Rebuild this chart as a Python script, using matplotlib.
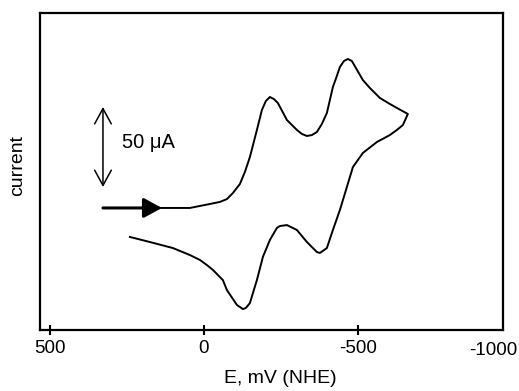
import matplotlib
matplotlib.use("Agg")
import matplotlib.pyplot as plt

plt.rcParams['font.family'] = ['Liberation Sans', 'DejaVu Sans']

# Forward scan (toward negative potentials), E in mV vs NHE, current in µA (arbitrary offset)
fwd_E = [142.5, 45.4, -19.4, -51.8, -74.5, -93.9, -116.6, -132.8, -149.0, -171.7,
         -187.9, -200.8, -213.8, -226.8, -239.7, -268.9, -301.3, -317.5, -333.7,
         -349.9, -366.0, -382.2, -398.4, -417.9, -430.8, -440.6, -453.5, -466.5,
         -479.4, -492.4, -515.0, -537.7, -570.1, -602.5, -625.2, -660.8]
fwd_I = [0.0, 0.0, 2.5, 3.8, 5.6, 9.4, 15.1, 22.7, 32.1, 49.2,
         61.8, 67.5, 70.0, 68.7, 66.2, 55.5, 49.2, 46.7, 45.4,
         46.0, 47.9, 53.0, 59.9, 76.3, 83.3, 88.9, 92.7, 94.0,
         92.7, 88.3, 80.7, 75.7, 69.4, 65.6, 63.1, 59.3]

# Reverse scan (back toward positive potentials)
rev_E = [-660.8, -644.6, -625.2, -602.5, -560.4, -515.0, -482.7, -463.2, -440.6,
         -417.9, -398.4, -375.8, -366.0, -333.7, -301.3, -268.9, -246.2, -236.5,
         -213.8, -191.1, -171.7, -149.0, -136.0, -126.3, -106.9, -74.5, -61.5,
         -29.2, -9.7, 13.0, 45.4, 100.4, 174.9, 239.7]
rev_I = [59.3, 52.3, 49.2, 46.0, 41.6, 34.7, 25.8, 13.2, -1.3,
         -13.9, -25.3, -28.4, -27.8, -21.5, -13.9, -10.8, -11.4, -12.6,
         -20.2, -30.9, -45.5, -60.0, -63.1, -63.8, -61.2, -51.8, -45.5,
         -39.1, -36.0, -32.8, -29.7, -25.3, -21.5, -18.3]

tick_vals = [500, 0, -500]
tick_labels = ['500', '0', '-500']

fig = plt.figure(figsize=(5.19, 3.91), dpi=100)
ax = fig.add_axes([40/519, 61/391, 463/519, 317/391])

ax.plot(fwd_E + rev_E, fwd_I + rev_I, color='black', lw=1.4, solid_joinstyle='round')

ax.set_xlim(531, -969)
ax.set_ylim(-77, 123)
ax.set_xticks(tick_vals)
ax.set_xticklabels(tick_labels)
ax.set_yticks([])
ax.tick_params(axis='x', direction='inout', length=7, width=1.5, labelsize=13.5, pad=4)
for s in ax.spines.values():
    s.set_linewidth(1.6)
ax.text(0.978, -0.038, '-1000', transform=ax.transAxes, ha='center', va='top', fontsize=13.5)

ax.set_xlabel('E, mV (NHE)', fontsize=14)
ax.xaxis.set_label_coords(0.518, -0.125)
ax.set_ylabel('current', fontsize=14)
ax.yaxis.set_label_coords(-0.03, 0.52)

# scale bar
ax.annotate('', xy=(327, 63.7), xytext=(327, 13.2),
            arrowprops=dict(arrowstyle='<->,head_length=0.55,head_width=0.3',
                            mutation_scale=20, lw=1.1, color='black',
                            shrinkA=0, shrinkB=0))
ax.text(266, 41.6, '50 μA', fontsize=14.5, ha='left', va='center')

# scan direction arrow
ax.annotate('', xy=(136, 0), xytext=(327, 0),
            arrowprops=dict(arrowstyle='-|>,head_length=0.55,head_width=0.3',
                            mutation_scale=20, lw=2.2, color='black',
                            shrinkA=0, shrinkB=0))

fig.savefig('out.png', dpi=100)
